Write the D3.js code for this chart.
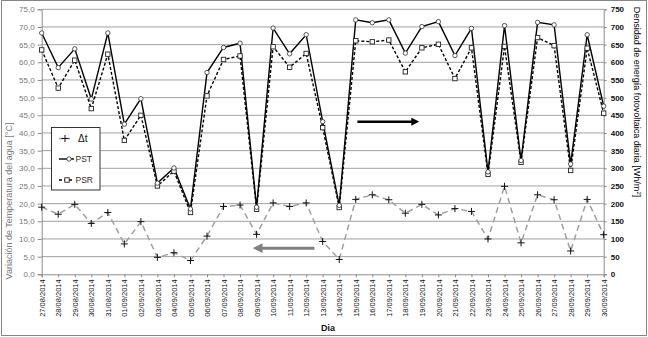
<!DOCTYPE html>
<html><head><meta charset="utf-8">
<script src="https://cdn.jsdelivr.net/npm/d3@7"></script>
<style>
body{margin:0;background:#fff;}
svg{display:block;font-family:"Liberation Sans",Arial,sans-serif;}
</style></head>
<body><svg id="c" width="648" height="337"></svg>
<script>
const dates = ["27/08/2014","28/08/2014","29/08/2014","30/08/2014","31/08/2014","01/09/2014","02/09/2014","03/09/2014","04/09/2014","05/09/2014","06/09/2014","07/09/2014","08/09/2014","09/09/2014","10/09/2014","11/09/2014","12/09/2014","13/09/2014","14/09/2014","15/09/2014","16/09/2014","17/09/2014","18/09/2014","19/09/2014","20/09/2014","21/09/2014","22/09/2014","23/09/2014","24/09/2014","25/09/2014","26/09/2014","27/09/2014","28/09/2014","29/09/2014","30/09/2014"];
const deltaT = [19.0,17.0,19.8,14.4,17.5,8.6,14.9,4.8,6.1,3.9,10.8,19.2,19.6,11.3,20.2,19.2,20.2,9.3,4.2,21.2,22.5,21.1,17.3,19.8,16.8,18.6,17.8,10.0,24.9,8.9,22.5,21.1,6.6,21.2,11.2];
const PST = [683,585,638,496,683,425,497,258,301,185,571,642,654,190,697,624,678,432,195,720,712,720,626,701,715,619,696,290,704,322,713,706,312,678,476];
const PSR = [635,527,606,469,623,379,450,250,292,175,505,608,618,184,644,586,625,415,189,661,658,663,573,641,651,554,641,283,645,317,670,647,294,640,456];
const leftTicks = d3.range(0, 76, 5);
const rightTicks = d3.range(0, 751, 50);
const seriesNames = ["Δt","PST","PSR"];
// annotation arrows in data units (day index, left-axis value)
const arrowBlack = {from:[19.1,43.2], to:[22.7,43.2]};
const arrowGray = {from:[16.5,7.4], to:[13.0,7.4]};

const svg = d3.select("#c");
const L = 41.7, R = 603.7, T = 9.3, B = 274.3;
const x = d3.scalePoint().domain(dates).range([L, R]);
const xi = d3.scaleLinear().domain([0, dates.length-1]).range([L, R]);
const yL = d3.scaleLinear().domain([0,75]).range([B, T]);
const yR = d3.scaleLinear().domain([0,750]).range([B, T]);

// outer border
svg.append("rect").attr("x",1.5).attr("y",0.5).attr("width",645).attr("height",335)
  .attr("fill","none").attr("stroke","#868686");

// gridlines
svg.append("g").selectAll("line").data(leftTicks.filter(d=>d>0)).join("line")
  .attr("x1",L).attr("x2",R).attr("y1",d=>yL(d)).attr("y2",d=>yL(d))
  .attr("stroke","#a0a0a0").attr("stroke-width",1);

// left axis
const gl = svg.append("g").attr("transform",`translate(${L},0)`)
  .call(d3.axisLeft(yL).tickValues(leftTicks).tickSize(4).tickPadding(3)
  .tickFormat(d=>d3.format(".1f")(d).replace(".",",")));
gl.select(".domain").attr("stroke","#8c8c8c");
gl.selectAll(".tick line").attr("stroke","#8c8c8c");
gl.selectAll("text").attr("fill","#7a7a7a").attr("font-size","8px").attr("font-family","Liberation Sans, Arial");

// right axis
const gr = svg.append("g").attr("transform",`translate(${R},0)`)
  .call(d3.axisRight(yR).tickValues(rightTicks).tickSize(3).tickPadding(4));
gr.select(".domain").attr("stroke","#8c8c8c");
gr.selectAll(".tick line").attr("stroke","#8c8c8c");
gr.selectAll("text").attr("fill","#111").attr("font-size","8px").attr("font-weight","bold").attr("font-family","Liberation Sans, Arial");

// bottom axis
const gb = svg.append("g").attr("transform",`translate(0,${B})`)
  .call(d3.axisBottom(x).tickSize(3).tickPadding(2));
gb.select(".domain").attr("stroke","#8c8c8c");
gb.selectAll(".tick line").attr("stroke","#8c8c8c");
gb.selectAll("text").attr("fill","#111").attr("font-size","7.5px").attr("font-family","Liberation Sans, Arial")
  .attr("text-anchor","end").attr("transform","translate(0,5) rotate(-90)").attr("x",0).attr("y",0).attr("dy","0.35em");

// axis titles
svg.append("text").attr("transform","translate(12,201) rotate(-90)").attr("text-anchor","middle")
  .attr("font-size","9px").attr("fill","#7a7a7a").text("Variación de Temperatura del agua [°C]");
svg.append("text").attr("transform","translate(634,102) rotate(90)").attr("text-anchor","middle")
  .attr("font-size","9px").attr("fill","#000").html("Densidad de energía fotovoltaica diaria [Wh/m<tspan baseline-shift='super' font-size='6px'>2</tspan>]");
svg.append("text").attr("x",328).attr("y",331).attr("text-anchor","middle")
  .attr("font-size","9px").attr("font-weight","bold").attr("fill","#111").text("Dia");

// series
const lineL = d3.line().x((d,i)=>x(dates[i])).y(d=>yL(d));
const lineR = d3.line().x((d,i)=>x(dates[i])).y(d=>yR(d));

svg.append("path").datum(deltaT).attr("d",lineL).attr("fill","none")
  .attr("stroke","#a0a0a0").attr("stroke-width",1.5).attr("stroke-dasharray","6,4");
svg.append("path").datum(PSR).attr("d",lineR).attr("fill","none")
  .attr("stroke","#000").attr("stroke-width",1.4).attr("stroke-dasharray","3,2");
svg.append("path").datum(PST).attr("d",lineR).attr("fill","none")
  .attr("stroke","#000").attr("stroke-width",1.4);

const plus = (g, cx, cy, s) => g.append("path")
  .attr("d",`M${cx-s},${cy}H${cx+s}M${cx},${cy-s}V${cy+s}`).attr("stroke","#111").attr("stroke-width",1);

svg.append("g").selectAll("path").data(deltaT).join("path")
  .attr("d",(d,i)=>{const cx=x(dates[i]),cy=yL(d),s=3.5;return `M${cx-s},${cy}H${cx+s}M${cx},${cy-s}V${cy+s}`;})
  .attr("stroke","#111").attr("stroke-width",1);
svg.append("g").selectAll("rect").data(PSR).join("rect")
  .attr("x",(d,i)=>x(dates[i])-2.2).attr("y",d=>yR(d)-2.2).attr("width",4.4).attr("height",4.4)
  .attr("fill","#fff").attr("stroke","#222").attr("stroke-width",0.9);
svg.append("g").selectAll("circle").data(PST).join("circle")
  .attr("cx",(d,i)=>x(dates[i])).attr("cy",d=>yR(d)).attr("r",2.2)
  .attr("fill","#fff").attr("stroke","#444").attr("stroke-width",0.9);

// arrows
const defs = svg.append("defs");
function arrow(a, color, w, id){
  defs.append("marker").attr("id",id).attr("viewBox","0 0 10 10").attr("refX",2).attr("refY",5)
    .attr("markerWidth",3.2).attr("markerHeight",3.2).attr("orient","auto")
    .append("path").attr("d","M0,0L10,5L0,10z").attr("fill",color);
  svg.append("line").attr("x1",xi(a.from[0])).attr("y1",yL(a.from[1]))
    .attr("x2",xi(a.to[0])-(a.to[0]>a.from[0]?4:-4)).attr("y2",yL(a.to[1]))
    .attr("stroke",color).attr("stroke-width",w).attr("marker-end",`url(#${id})`);
}
arrow(arrowBlack,"#000",2.5,"ab");
arrow(arrowGray,"#808080",3,"ag");

// legend
const lg = svg.append("g");
lg.append("rect").attr("x",51.5).attr("y",127.5).attr("width",48.5).attr("height",62.5)
  .attr("fill","#fff").attr("stroke","#333").attr("stroke-width",1);
const ly = [138.5,159,180];
// Δt
lg.append("line").attr("x1",59).attr("x2",72).attr("y1",ly[0]).attr("y2",ly[0])
  .attr("stroke","#a0a0a0").attr("stroke-width",1.5).attr("stroke-dasharray","4,3");
plus(lg,65,ly[0],3.5);
lg.append("text").attr("x",78).attr("y",ly[0]).attr("dy","0.35em").attr("font-size","10px").attr("fill","#111").text(seriesNames[0]);
// PST
lg.append("line").attr("x1",59).attr("x2",74).attr("y1",ly[1]).attr("y2",ly[1]).attr("stroke","#000").attr("stroke-width",1.4);
lg.append("circle").attr("cx",69).attr("cy",ly[1]).attr("r",2.2).attr("fill","#fff").attr("stroke","#444").attr("stroke-width",0.9);
lg.append("text").attr("x",75.5).attr("y",ly[1]).attr("dy","0.35em").attr("font-size","8.5px").attr("fill","#3a2a1a").text(seriesNames[1]);
// PSR
lg.append("line").attr("x1",59).attr("x2",74).attr("y1",ly[2]).attr("y2",ly[2]).attr("stroke","#000").attr("stroke-width",1.4).attr("stroke-dasharray","3,2");
lg.append("rect").attr("x",64.8).attr("y",ly[2]-2.2).attr("width",4.4).attr("height",4.4).attr("fill","#fff").attr("stroke","#222").attr("stroke-width",0.9);
lg.append("text").attr("x",75.5).attr("y",ly[2]).attr("dy","0.35em").attr("font-size","8.5px").attr("fill","#3a2a1a").text(seriesNames[2]);
</script></body></html>
